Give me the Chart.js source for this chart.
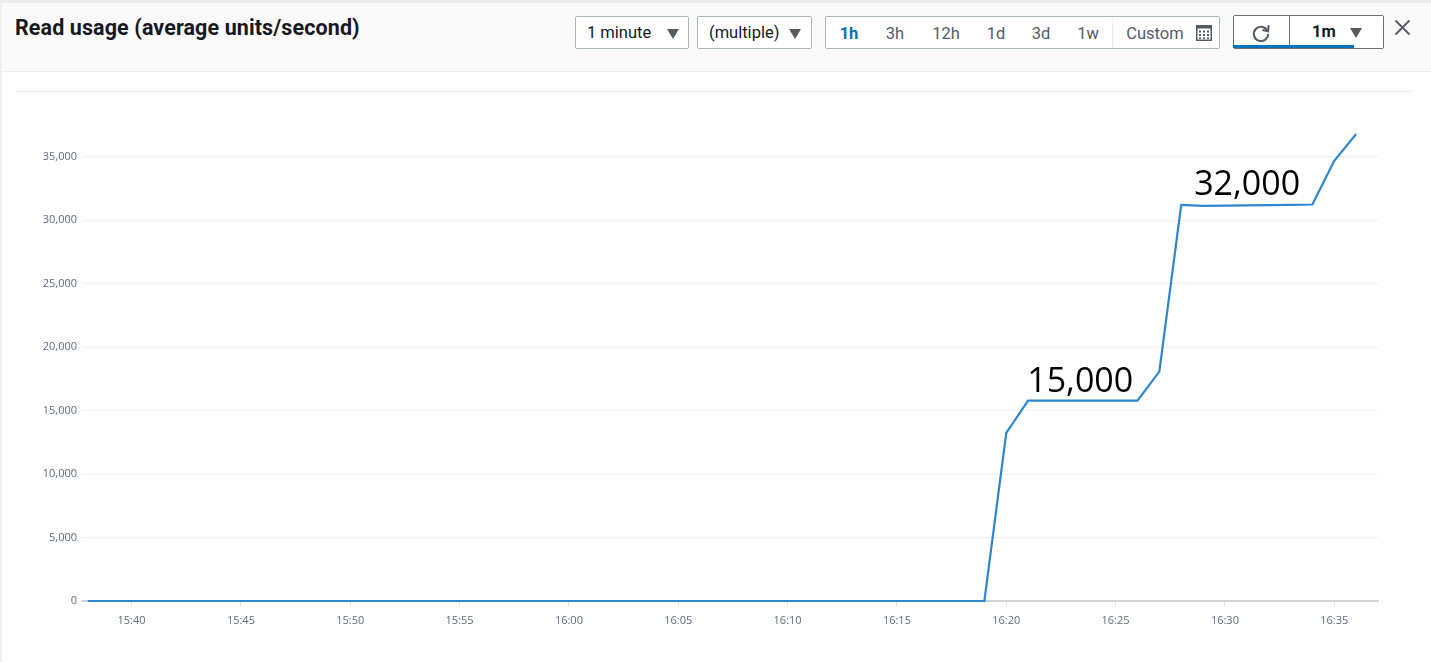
<!DOCTYPE html>
<html>
<head>
<meta charset="utf-8">
<script src="https://cdn.jsdelivr.net/npm/chart.js@4.4.1/dist/chart.umd.min.js"></script>
<style>
  html, body { margin: 0; padding: 0; background: #fff; }
  body { width: 1431px; height: 662px; position: relative; overflow: hidden; font-family: Roboto, "Open Sans", sans-serif; color: #16191f; }
  .header { position: absolute; left: 0; top: 0; width: 1431px; height: 72px; background: #fafafa; border-top: 3px solid #eceeee; border-bottom: 1px solid #eaeded; box-sizing: border-box; }
  .leftline { position: absolute; left: 0; top: 0; width: 2px; height: 662px; background: #eef0f0; }
  .title { position: absolute; left: 15px; top: 15px; font-size: 21.5px; font-weight: 700; letter-spacing: 0.1px; }
  .box { position: absolute; top: 16px; height: 33px; box-sizing: border-box; border: 1px solid #aab7b8; border-radius: 2px; background: #fff; font-size: 16.5px; line-height: 31px; }
  .box span { position: absolute; top: 0; }
  .tri { position: absolute; top: 12px; width: 0; height: 0; border-left: 6.5px solid transparent; border-right: 6.5px solid transparent; border-top: 10px solid #545b64; }
  .seg span { position: absolute; top: 1px; transform: translateX(-50%); color: #545b64; }
  .seg .on { color: #0073bb; font-weight: 700; }
  .divider { position: absolute; top: 0; width: 1px; height: 31px; background: #eaeded; }
  .panelline { position: absolute; left: 15px; top: 91px; width: 1398px; height: 1px; background: #eaeded; }
  #wrap { position: absolute; left: 0; top: 92px; width: 1431px; height: 570px; }
</style>
</head>
<body>
<div class="header"></div>
<div class="leftline"></div>
<div class="title">Read usage (average units/second)</div>

<div class="box" style="left:575px;width:114px;">
  <span style="left:11px;">1 minute</span>
  <div class="tri" style="left:91px;"></div>
</div>
<div class="box" style="left:697px;width:115px;">
  <span style="left:11px;">(multiple)</span>
  <div class="tri" style="left:91px;"></div>
</div>

<div class="box seg" style="left:825px;width:395px;">
  <span class="on" style="left:23px;">1h</span>
  <span style="left:69px;">3h</span>
  <span style="left:120px;">12h</span>
  <span style="left:170px;">1d</span>
  <span style="left:215px;">3d</span>
  <span style="left:262px;">1w</span>
  <div class="divider" style="left:286px;"></div>
  <span style="left:329px;">Custom</span>
  <svg style="position:absolute;left:370px;top:8px;" width="16" height="16" viewBox="0 0 16 16">
    <rect x="0.75" y="0.75" width="14.5" height="14.5" fill="none" stroke="#545b64" stroke-width="1.5"/>
    <rect x="0" y="0" width="16" height="3.5" fill="#545b64"/>
    <g fill="#545b64">
      <rect x="3" y="5.5" width="2" height="2"/><rect x="7" y="5.5" width="2" height="2"/><rect x="11" y="5.5" width="2" height="2"/>
      <rect x="3" y="9" width="2" height="2"/><rect x="7" y="9" width="2" height="2"/><rect x="11" y="9" width="2" height="2"/>
      <rect x="3" y="12.3" width="2" height="1.6"/><rect x="7" y="12.3" width="2" height="1.6"/><rect x="11" y="12.3" width="2" height="1.6"/>
    </g>
  </svg>
</div>

<div class="box" style="left:1233px;top:15px;width:151px;height:34px;border-color:#687078;">
  <svg style="position:absolute;left:16px;top:6px;" width="22" height="22" viewBox="0 0 22 22">
    <path d="M17.2 8.2 A7.2 7.2 0 1 0 18.2 12" fill="none" stroke="#545b64" stroke-width="2"/>
    <path d="M18.6 3.2 L18.2 9.2 L12.4 8.1" fill="none" stroke="#545b64" stroke-width="2"/>
  </svg>
  <div class="divider" style="left:55px;height:32px;background:#687078;"></div>
  <span style="left:78px;font-weight:700;">1m</span>
  <div class="tri" style="left:116px;top:12px;"></div>
  <div style="position:absolute;left:-1px;top:29px;width:121px;height:3px;background:#0073bb;"></div>
</div>

<svg style="position:absolute;left:1394px;top:19px;" width="17" height="17" viewBox="0 0 17 17">
  <path d="M1.5 1.5 L15.5 15.5 M15.5 1.5 L1.5 15.5" stroke="#545b64" stroke-width="1.8"/>
</svg>

<div class="panelline"></div>
<div id="wrap"><canvas id="usageChart" width="1431" height="570"></canvas></div>

<script>
// per-minute samples
const times = [
  '15:38', '15:39', '15:40', '15:41', '15:42', '15:43', '15:44', '15:45', '15:46', '15:47',
  '15:48', '15:49', '15:50', '15:51', '15:52', '15:53', '15:54', '15:55', '15:56', '15:57',
  '15:58', '15:59', '16:00', '16:01', '16:02', '16:03', '16:04', '16:05', '16:06', '16:07',
  '16:08', '16:09', '16:10', '16:11', '16:12', '16:13', '16:14', '16:15', '16:16', '16:17',
  '16:18', '16:19', '16:20', '16:21', '16:22', '16:23', '16:24', '16:25', '16:26', '16:27',
  '16:28', '16:29', '16:30', '16:31', '16:32', '16:33', '16:34', '16:35', '16:36'
];
const readUnits = [
  0, 0, 0, 0, 0, 0, 0, 0, 0, 0,
  0, 0, 0, 0, 0, 0, 0, 0, 0, 0,
  0, 0, 0, 0, 0, 0, 0, 0, 0, 0,
  0, 0, 0, 0, 0, 0, 0, 0, 0, 0,
  0, 0, 13250, 15790, 15790, 15790, 15790, 15790, 15790, 18075,
  31215, 31135, 31150, 31170, 31190, 31210, 31240, 34685, 36790
];

const xTickLabels = ['15:40', '15:45', '15:50', '15:55', '16:00', '16:05', '16:10', '16:15', '16:20', '16:25', '16:30', '16:35'];
const yTickValues = [0, 5000, 10000, 15000, 20000, 25000, 30000, 35000];

// big overlaid labels: text, time it is centred on, value at its baseline
const noteTexts = ['15,000', '32,000'];
const noteTimes = ['16:23:23', '16:31:01'];
const noteValues = [16500, 32000];

const toMin = (t) => {
  const p = t.split(':').map(Number);
  return p[0] * 60 + p[1] + (p[2] || 0) / 60;
};
const fmtMin = (v) => {
  const h = Math.floor(v / 60), m = Math.round(v - h * 60);
  return h + ':' + String(m).padStart(2, '0');
};

const noteLabels = {
  id: 'noteLabels',
  afterDatasetsDraw(chart) {
    const { ctx, scales: { x, y } } = chart;
    ctx.save();
    ctx.font = '34px "Open Sans"';
    ctx.fillStyle = '#000';
    ctx.textAlign = 'center';
    ctx.textBaseline = 'alphabetic';
    noteTexts.forEach((t, i) => {
      ctx.fillText(t, x.getPixelForValue(toMin(noteTimes[i])), y.getPixelForValue(noteValues[i]));
    });
    ctx.restore();
  }
};

Chart.defaults.font.family = "'Open Sans', sans-serif";
Chart.defaults.color = '#5f6b7a';

const ctx = document.getElementById('usageChart').getContext('2d');
new Chart(ctx, {
  type: 'line',
  data: {
    datasets: [{
      label: 'Read usage',
      data: times.map((t, i) => ({ x: toMin(t), y: readUnits[i] })),
      borderColor: '#2e86cf',
      borderWidth: 2.2,
      pointRadius: 0,
      tension: 0,
      fill: false,
      clip: false
    }]
  },
  options: {
    responsive: false,
    animation: false,
    layout: { padding: { left: 12, right: 53, top: 14, bottom: 0 } },
    plugins: { legend: { display: false }, tooltip: { enabled: false } },
    scales: {
      x: {
        type: 'linear',
        min: toMin('15:37:44'),
        max: toMin('16:37'),
        afterBuildTicks: (s) => { s.ticks = xTickLabels.map(t => ({ value: toMin(t) })); },
        afterFit: (s) => { s.height = 61; },
        ticks: { font: { size: 11 }, padding: 7, maxRotation: 0, callback: (v) => fmtMin(v) },
        grid: { drawOnChartArea: false, drawTicks: true, tickLength: 6, color: '#e3e5e6' },
        border: { color: '#cfd2d4', width: 2 }
      },
      y: {
        min: 0,
        max: 39000,
        afterBuildTicks: (s) => { s.ticks = yTickValues.map(v => ({ value: v })); },
        afterFit: (s) => { s.width = 70; },
        ticks: { font: { size: 11 }, padding: 5, callback: (v) => v.toLocaleString('en-US') },
        grid: { color: '#eff0f1', drawTicks: false },
        border: { display: false }
      }
    }
  },
  plugins: [noteLabels]
});
</script>
</body>
</html>
